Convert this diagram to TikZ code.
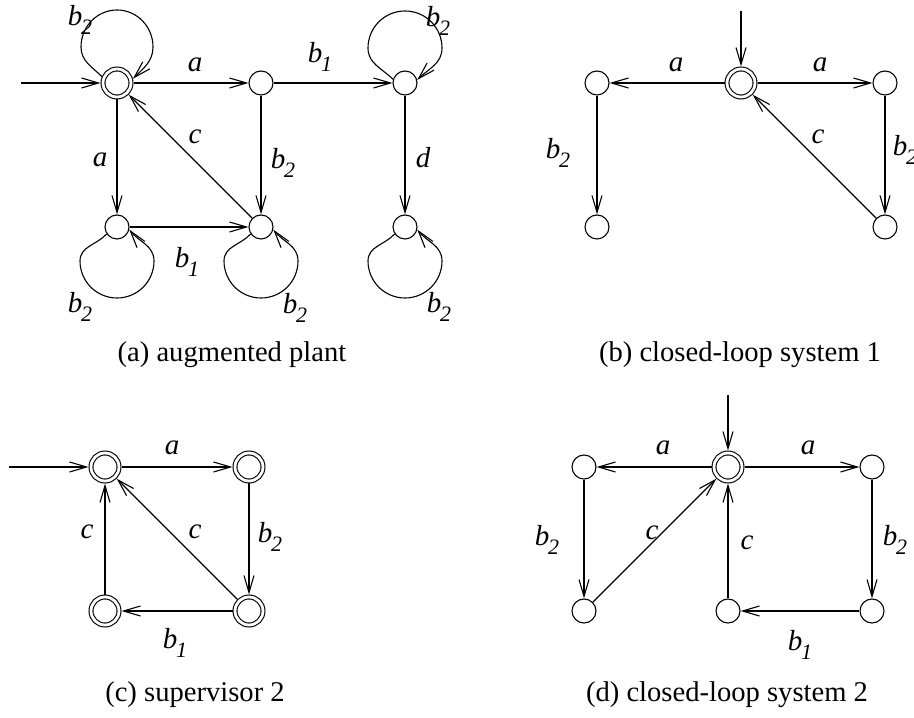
\documentclass[tikz,border=0pt]{standalone}
\usepackage{fontspec}
\setmainfont{Liberation Serif}
\usetikzlibrary{arrows.meta,positioning}

\newcommand{\ev}[2]{#1\kern-0.6pt\raisebox{-4.5pt}{\fontsize{11}{11}\selectfont #2}}

\tikzset{
  st/.style={draw,circle,minimum size=12pt,inner sep=0pt},
  acc/.style={draw,circle,minimum size=14pt,inner sep=0pt,double,double distance=1.4pt,outer sep=1.25pt},
  tr/.style={-{Straight Barb[length=8.5pt,width=5pt]}},
  lbl/.style={font=\fontsize{14.5}{16}\selectfont\itshape,inner sep=0pt},
  captxt/.style={font=\fontsize{14.3}{17}\selectfont,inner sep=0pt},
}

\begin{document}
\begin{tikzpicture}[x=0.5pt,y=0.5pt,line width=0.55pt,node distance=72pt,on grid]
    \useasboundingbox (0,0) rectangle (914,717);

    % (a) augmented plant
    \node (q0) [acc] at (117,634) {};
    \node (q1) [st,right=of q0] {};
    \node (q2) [st,right=of q1] {};
    \node (q3) [st,below=of q0] {};
    \node (q4) [st,below=of q1] {};
    \node (q5) [st,below=of q2] {};
    \coordinate (ia) at (21,634);
    \draw[tr] (ia)--(q0);
    \draw[tr] (q0)--(q1);
    \draw[tr] (q1)--(q2);
    \draw[tr] (q0)--(q3);
    \draw[tr] (q1)--(q4);
    \draw[tr] (q4)--(q0);
    \draw[tr] (q3)--(q4);
    \draw[tr] (q2)--(q5);
    % self loops
    \draw[tr] (q0.157) to[out=135,in=270] ([shift={(-18pt,18pt)}]q0.center)
      to[out=90,in=180] ([shift={(0pt,36.5pt)}]q0.center)
      to[out=0,in=90] ([shift={(18pt,18pt)}]q0.center)
      to[out=270,in=45] (q0.15);
    \draw[tr] (q2.163) to[out=135,in=270] ([shift={(-18.5pt,17.5pt)}]q2.center)
      to[out=90,in=180] ([shift={(0pt,36pt)}]q2.center)
      to[out=0,in=90] ([shift={(18.5pt,17.5pt)}]q2.center)
      to[out=270,in=45] (q2.14);
    \draw[tr] (q3.214) to[out=228,in=90] ([shift={(-18.5pt,-17pt)}]q3.center)
      to[out=270,in=180] ([shift={(0pt,-35.5pt)}]q3.center)
      to[out=0,in=270] ([shift={(18.5pt,-17pt)}]q3.center)
      to[out=90,in=-52] (q3.-12);
    \draw[tr] (q4.214) to[out=228,in=90] ([shift={(-18.5pt,-17pt)}]q4.center)
      to[out=270,in=180] ([shift={(0pt,-35.5pt)}]q4.center)
      to[out=0,in=270] ([shift={(18.5pt,-17pt)}]q4.center)
      to[out=90,in=-52] (q4.-12);
    \draw[tr] (q5.214) to[out=228,in=90] ([shift={(-18.5pt,-17pt)}]q5.center)
      to[out=270,in=180] ([shift={(0pt,-35.5pt)}]q5.center)
      to[out=0,in=270] ([shift={(18.5pt,-17pt)}]q5.center)
      to[out=90,in=-52] (q5.-12);
    \node (la1) [lbl] at (195,652) {a};
    \node (la2) [lbl] at (320,660) {\ev{b}{1}};
    \node (la3) [lbl] at (100,557) {a};
    \node (la4) [lbl] at (195,580) {c};
    \node (la5) [lbl] at (283,554) {\ev{b}{2}};
    \node (la6) [lbl] at (187,455) {\ev{b}{1}};
    \node (la7) [lbl] at (423,559) {d};
    \node (la8) [lbl] at (80,697) {\ev{b}{2}};
    \node (la9) [lbl] at (438,696) {\ev{b}{2}};
    \node (la10) [lbl] at (80,410) {\ev{b}{2}};
    \node (la11) [lbl] at (295,409) {\ev{b}{2}};
    \node (la12) [lbl] at (439,410) {\ev{b}{2}};
    \node (capa) [captxt] at (232,362) {(a) augmented plant};

    % (b) closed-loop system 1
    \node (b0) [acc] at (741,634) {};
    \node (b1) [st,left=of b0] {};
    \node (b2) [st,right=of b0] {};
    \node (b3) [st,below=of b1] {};
    \node (b4) [st,below=of b2] {};
    \coordinate (ib) at (741,706);
    \draw[tr] (ib)--(b0);
    \draw[tr] (b0)--(b1);
    \draw[tr] (b0)--(b2);
    \draw[tr] (b1)--(b3);
    \draw[tr] (b2)--(b4);
    \draw[tr] (b4)--(b0);
    \node (lb1) [lbl] at (676,652) {a};
    \node (lb2) [lbl] at (820,652) {a};
    \node (lb3) [lbl] at (558,564) {\ev{b}{2}};
    \node (lb4) [lbl] at (818,580) {c};
    \node (lb5) [lbl] at (905,567) {\ev{b}{2}};
    \node (capb) [captxt] at (740,362) {(b) closed-loop system 1};

    % (c) supervisor 2
    \node (c0) [acc] at (105,250) {};
    \node (c1) [acc,right=of c0] {};
    \node (c3) [acc,below=of c0] {};
    \node (c2) [acc,right=of c3] {};
    \coordinate (ic) at (9,250);
    \draw[tr] (ic)--(c0);
    \draw[tr] (c0)--(c1);
    \draw[tr] (c1)--(c2);
    \draw[tr] (c2)--(c3);
    \draw[tr] (c3)--(c0);
    \draw[tr] (c2)--(c0);
    \node (lc1) [lbl] at (172,269) {a};
    \node (lc2) [lbl] at (270,180) {\ev{b}{2}};
    \node (lc3) [lbl] at (175,74) {\ev{b}{1}};
    \node (lc4) [lbl] at (87,185) {c};
    \node (lc5) [lbl] at (195,185) {c};
    \node (capc) [captxt] at (195,22) {(c) supervisor 2};

    % (d) closed-loop system 2
    \node (d0) [acc] at (728,250) {};
    \node (d1) [st,left=of d0] {};
    \node (d2) [st,right=of d0] {};
    \node (d3) [st,below=of d1] {};
    \node (d4) [st,below=of d0] {};
    \node (d5) [st,below=of d2] {};
    \coordinate (id) at (728,322);
    \draw[tr] (id)--(d0);
    \draw[tr] (d0)--(d1);
    \draw[tr] (d0)--(d2);
    \draw[tr] (d1)--(d3);
    \draw[tr] (d2)--(d5);
    \draw[tr] (d5)--(d4);
    \draw[tr] (d3)--(d0);
    \draw[tr] (d4)--(d0);
    \node (ld1) [lbl] at (663,269) {a};
    \node (ld2) [lbl] at (808,269) {a};
    \node (ld3) [lbl] at (547,177) {\ev{b}{2}};
    \node (ld4) [lbl] at (895,177) {\ev{b}{2}};
    \node (ld5) [lbl] at (652,184) {c};
    \node (ld6) [lbl] at (747,174) {c};
    \node (ld7) [lbl] at (800,72) {\ev{b}{1}};
    \node (capd) [captxt] at (727,22) {(d) closed-loop system 2};
\end{tikzpicture}
\end{document}
